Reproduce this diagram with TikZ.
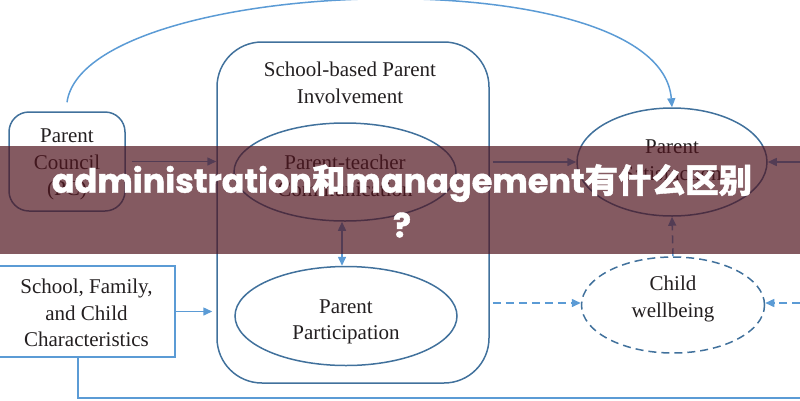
\documentclass[tikz,border=0pt]{standalone}
\usepackage{fontspec}
\setmainfont{Liberation Serif}
\newfontfamily\bannerfont{Poppins}[BoldFeatures={FakeBold=1.2}]
\newfontfamily\cjk{Noto Sans CJK SC}[BoldFeatures={FakeBold=1.2}]
\usetikzlibrary{arrows.meta,shapes.geometric}
\definecolor{dkblue}{HTML}{41719C}
\definecolor{ltblue}{HTML}{5B9BD5}
\definecolor{ink}{HTML}{231F20}
\definecolor{band}{RGB}{80,20,30}

\begin{document}
\begin{tikzpicture}[x=1pt,y=-1pt,line width=1.5pt]
\tikzstyle{every node}=[inner sep=0pt, align=center, text=ink, font=\fontsize{21}{26.5}\selectfont]
\tikzstyle{oval}=[draw=dkblue, ellipse]
\tikzstyle{tip}=[-{Triangle[length=9pt,width=8pt]}]
\tikzstyle{dashline}=[dash pattern=on 8pt off 5pt]
\tikzstyle{bannertext}=[text=white, font=\bannerfont\bfseries\fontsize{33.5}{40}\selectfont]
\useasboundingbox (0,0) rectangle (800,400);
% boxes and ovals
\draw (67,161.5) node (pc) [draw=dkblue, rounded corners=20pt, minimum width=116pt, minimum height=99pt] {};
\draw (353,212.5) node (sbpi) [draw=dkblue, rounded corners=45pt, minimum width=272pt, minimum height=341pt] {};
\draw (345,172) node (ptc) [oval, minimum width=222pt, minimum height=98pt] {};
\draw (346,316) node (pp) [oval, minimum width=222pt, minimum height=99pt] {};
\draw (672,162) node (ps) [oval, minimum width=190pt, minimum height=108pt] {};
\draw (673,305) node (cw) [oval, dashline, minimum width=183pt, minimum height=96pt] {};
\draw (86.5,311.5) node (sfc) [draw=ltblue, minimum width=177pt, minimum height=91pt] {};
% texts
\draw ([yshift=-3pt]pc.center) node (pctext) {Parent\\Council\\(PC)};
\draw (350,83) node (sbpitext) {School-based Parent\\Involvement};
\draw ([yshift=-4pt]ptc.center) node (ptctext) {Parent-teacher\\Communication};
\draw ([yshift=-6pt]pp.center) node (pptext) {Parent\\Participation};
\draw ([yshift=2pt]ps.center) node (pstext) {Parent\\Satisfaction};
\draw ([yshift=6pt]cw.center) node (cwtext) {Child\\wellbeing};
\draw ([yshift=-1.5pt]sfc.center) node (sfctext) {School, Family,\\and Child\\Characteristics};
\coordinate (rt1) at (800,162);
\coordinate (rt2) at (800,303);
\coordinate (rb) at (800,398);
% connectors
\draw[ltblue,tip] ([yshift=9pt]pc.north) .. controls (85,-25) and (660,-45) .. (ps.north);
\draw[ltblue,tip] ([xshift=6pt]pc.east) -- (pc.east -| sbpi.west);
\draw[ltblue,tip] ([xshift=3pt]sbpi.east |- ps.west) -- (ps.west);
\draw[ltblue,tip] (rt1) -- (ps.east);
\draw[ltblue,{Triangle[length=9pt,width=8pt]}-{Triangle[length=9pt,width=8pt]}] ([xshift=-3pt]ptc.south) -- ([xshift=-3pt]ptc.south |- pp.north);
\draw[ltblue,dashline,tip] ([xshift=3pt]sbpi.east |- rt2) -- (rt2 -| cw.west);
\draw[ltblue,dashline,tip] (rt2) -- (rt2 -| cw.east);
\draw[ltblue,dashline,tip] (cw.north) -- (ps.south);
\draw[ltblue,tip,shorten >=4pt] (sfc.east) -- (sfc.east -| sbpi.west);
\draw[ltblue] ([xshift=-8.5pt]sfc.south) |- (rb);
% banner
\fill[band, opacity=0.7] (0,146) rectangle (800,254);
\draw (402,183) node (ttl1) [bannertext] {administration{\cjk\bfseries 和}management{\cjk\bfseries 有什么区别}};
\draw (402,225) node (ttl2) [bannertext] {?};
\end{tikzpicture}
\end{document}
